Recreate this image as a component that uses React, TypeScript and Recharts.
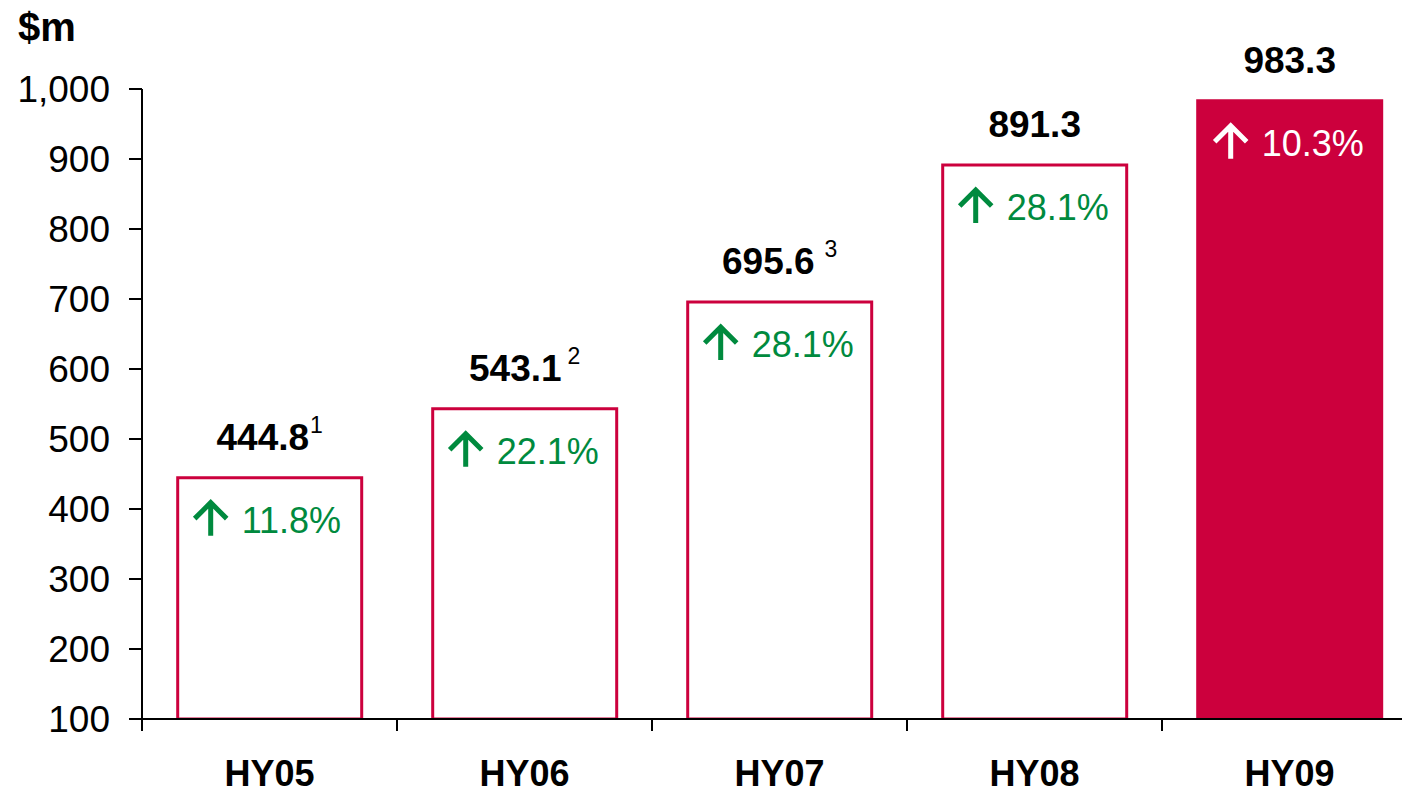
import React from 'react';
import { BarChart, Bar, XAxis, YAxis, Cell, LabelList } from 'recharts';

const categories = ['HY05', 'HY06', 'HY07', 'HY08', 'HY09'];
const values = [444.8, 543.1, 695.6, 891.3, 983.3];
const growth = ['11.8%', '22.1%', '28.1%', '28.1%', '10.3%'];
const footnotes = ['1', '2', '3', '', ''];
const yTicks = [100, 200, 300, 400, 500, 600, 700, 800, 900, 1000];

const RED = '#CC003D';
const GREEN = '#008A3E';
const FONT = '"Liberation Sans", Arial, sans-serif';

const data = categories.map((name, i) => ({
  name,
  value: values[i],
  growth: growth[i],
  note: footnotes[i],
}));

// category label plus a boundary tick on the left edge of each band
const CategoryTick = (props: any) => {
  const { x, y, payload } = props;
  const half = payload && payload.offset ? payload.offset : 127.5;
  return (
    <g>
      <line x1={x - half} x2={x - half} y1={y} y2={y + 12} stroke="#000" strokeWidth={2} />
      <text x={x} y={y + 67} textAnchor="middle" fontFamily={FONT} fontSize={36} fontWeight="bold" fill="#000">
        {payload.value}
      </text>
    </g>
  );
};

const ValueLabel = (props: any) => {
  const { x, y, width, index } = props;
  const note = footnotes[index];
  const cx = x + width / 2;
  return (
    <text x={cx} y={y - 28} textAnchor="middle" fontFamily={FONT} fill="#000">
      <tspan fontSize={37} fontWeight="bold">{values[index].toFixed(1)}</tspan>
      {note ? (
        <tspan fontSize={23} dy={-17} dx={index === 2 ? 10 : index === 1 ? 6 : 1}>{note}</tspan>
      ) : null}
    </text>
  );
};

const GrowthLabel = (props: any) => {
  const { x, y, width, index } = props;
  const color = index === categories.length - 1 ? '#fff' : GREEN;
  const left = x + width / 2 - 76;
  const base = y + 55;
  const tip = base - 32;
  const mid = left + 17;
  return (
    <g>
      <path
        d={`M${left + 1},${tip + 18} L${mid},${tip + 2} L${left + 33},${tip + 18} M${mid},${tip + 1} L${mid},${base + 3}`}
        stroke={color}
        strokeWidth={5}
        fill="none"
      />
      <text x={left + 48} y={base} fontFamily={FONT} fontSize={36} fill={color}>
        {growth[index]}
      </text>
    </g>
  );
};

export default function App() {
  return (
    <div style={{ position: 'absolute', left: 0, top: 0, width: 1402, height: 793, overflow: 'hidden', background: '#fff' }}>
      <div
        style={{
          position: 'absolute',
          left: 18,
          top: 2,
          fontFamily: FONT,
          fontSize: 40,
          fontWeight: 'bold',
          lineHeight: '50px',
        }}
      >
        $m
      </div>
      <BarChart
        width={1420}
        height={793}
        data={data}
        margin={{ top: 89, right: 3, left: 0, bottom: 0 }}
        barCategoryGap="14%"
      >
        <XAxis
          dataKey="name"
          height={74}
          axisLine={{ stroke: '#000', strokeWidth: 2 }}
          tickLine={false}
          tickSize={0}
          tickMargin={0}
          tick={<CategoryTick />}
          interval={0}
        />
        <YAxis
          width={142}
          domain={[100, 1000]}
          ticks={yTicks}
          allowDataOverflow
          axisLine={{ stroke: '#000', strokeWidth: 2 }}
          tickLine={{ stroke: '#000', strokeWidth: 2 }}
          tickSize={13}
          tickMargin={19}
          tick={{ fontFamily: FONT, fontSize: 37, fill: '#000' }}
          tickFormatter={(v: number) => v.toLocaleString('en-US')}
        />
        <Bar dataKey="value" isAnimationActive={false} strokeWidth={3}>
          {data.map((d, i) => (
            <Cell
              key={d.name}
              fill={i === data.length - 1 ? RED : '#fff'}
              stroke={RED}
            />
          ))}
          <LabelList dataKey="value" content={<ValueLabel />} />
          <LabelList dataKey="growth" content={<GrowthLabel />} />
        </Bar>
      </BarChart>
    </div>
  );
}
